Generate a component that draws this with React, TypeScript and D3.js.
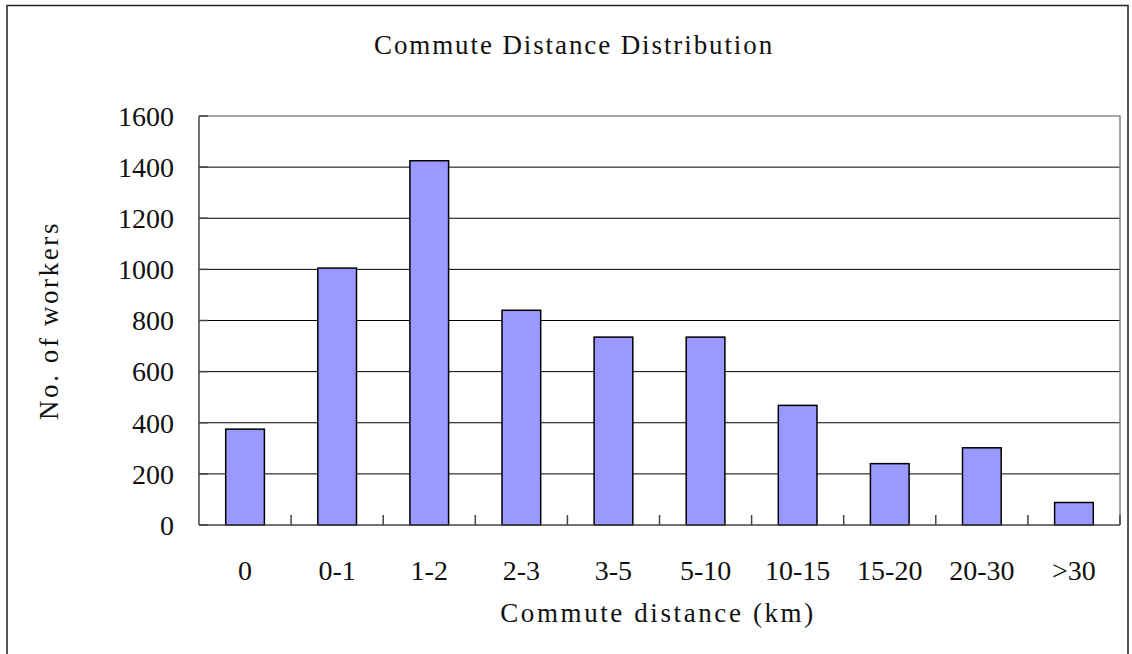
import React from "react";
import * as d3 from "d3";

const categories = ["0", "0-1", "1-2", "2-3", "3-5", "5-10", "10-15", "15-20", "20-30", ">30"];
const workers = [375, 1005, 1425, 840, 735, 735, 468, 240, 302, 88];
const yTicks = [0, 200, 400, 600, 800, 1000, 1200, 1400, 1600];

const W = 1132, H = 654;
const M = { left: 199, top: 116, right: 1120, bottom: 525 };
const FONT = "'Liberation Serif', 'DejaVu Serif', serif";

export default function App() {
  const x = d3.scaleBand<string>().domain(categories).range([M.left, M.right]).paddingInner(0.58).paddingOuter(0.29);
  const band = d3.scaleBand<string>().domain(categories).range([M.left, M.right]);
  const y = d3.scaleLinear().domain([0, 1600]).range([M.bottom, M.top]);

  return (
    <svg width={W} height={H} style={{ position: "absolute", left: 0, top: 0, background: "#fff" }} fontFamily={FONT}>
      <rect x={0} y={0} width={W} height={H} fill="#fff" />
      {/* outer frame */}
      <path d={`M7,${H + 2} V5.5 H1128 V${H + 2}`} fill="none" stroke="#222" strokeWidth={1.5} />
      <text x={574} y={54} textAnchor="middle" fontSize={27} letterSpacing={1.9} fill="#111">Commute Distance Distribution</text>

      {/* gridlines */}
      {yTicks.filter(t => t > 0 && t < 1600).map(t => (
        <line key={t} x1={M.left} x2={M.right} y1={y(t)} y2={y(t)} stroke="#000" strokeWidth={1} />
      ))}
      {/* plot border top/right */}
      <path d={`M${M.left},${M.top} H${M.right} V${M.bottom}`} fill="none" stroke="#888" strokeWidth={1.5} />
      {/* bars */}
      {categories.map((c, i) => (
        <rect key={c} x={x(c)} y={y(workers[i])} width={x.bandwidth()} height={y(0) - y(workers[i])}
          fill="#9999FF" stroke="#000" strokeWidth={1.5} />
      ))}
      {/* axes */}
      <line x1={M.left} x2={M.left} y1={M.top} y2={M.bottom} stroke="#444" strokeWidth={1.5} />
      <line x1={M.left} x2={M.right} y1={M.bottom} y2={M.bottom} stroke="#444" strokeWidth={1.5} />
      {yTicks.map(t => (
        <g key={t}>
          <line x1={M.left} x2={M.left + 9} y1={y(t)} y2={y(t)} stroke="#444" strokeWidth={1.5} />
          <text x={174} y={y(t)} dy="0.35em" textAnchor="end" fontSize={28} fill="#111">{t}</text>
        </g>
      ))}
      {categories.map((c, i) => (
        <g key={c}>
          {i > 0 && <line x1={band(c)} x2={band(c)} y1={M.bottom} y2={M.bottom - 10} stroke="#444" strokeWidth={1.5} />}
          <text x={(band(c) as number) + band.bandwidth() / 2} y={580} textAnchor="middle" fontSize={28} fill="#111">{c}</text>
        </g>
      ))}
      <line x1={M.right} x2={M.right} y1={M.bottom} y2={M.bottom - 10} stroke="#444" strokeWidth={1.5} />
      <text x={658} y={622} textAnchor="middle" fontSize={27} letterSpacing={2.6} fill="#111">Commute distance (km)</text>
      <text transform={`translate(58,${(M.top + M.bottom) / 2}) rotate(-90)`} textAnchor="middle" fontSize={27} letterSpacing={2.6} fill="#111">No. of workers</text>
    </svg>
  );
}
